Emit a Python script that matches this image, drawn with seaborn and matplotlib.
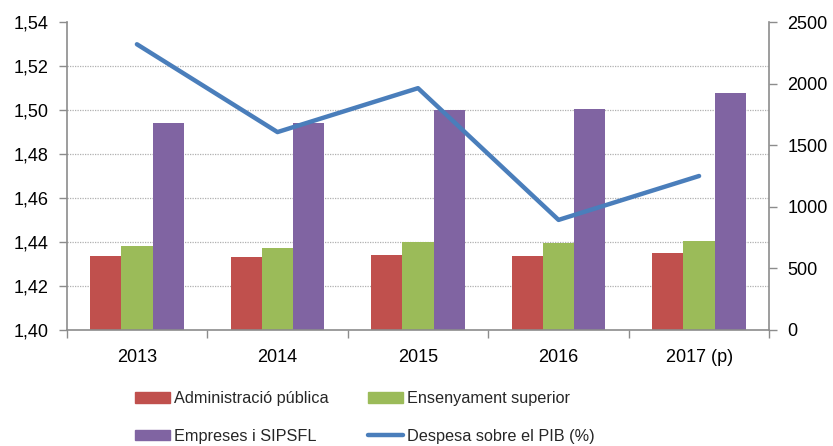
import numpy as np
import pandas as pd
import matplotlib
matplotlib.use("Agg")
import matplotlib.pyplot as plt
from matplotlib.ticker import FuncFormatter, FixedLocator
from matplotlib.patches import Patch
from matplotlib.lines import Line2D
import seaborn as sns

years = ["2013", "2014", "2015", "2016", "2017 (p)"]
admin = [597, 591, 605, 597, 621]
ensenyament = [681, 664, 713, 708, 724]
empreses = [1681, 1680, 1787, 1795, 1928]
pib = [1.530, 1.490, 1.510, 1.450, 1.470]

series_names = ["Administració pública", "Ensenyament superior", "Empreses i SIPSFL"]
colors = ["#c0504d", "#9bbb59", "#8064a2"]
line_name = "Despesa sobre el PIB (%)"
line_color = "#4a7ebb"

sns.set_style("white")
plt.rcParams["font.family"] = ["Liberation Sans", "DejaVu Sans"]

df = pd.DataFrame({
    "year": years * 3,
    "serie": sum([[n] * len(years) for n in series_names], []),
    "value": admin + ensenyament + empreses,
})

fig = plt.figure(figsize=(8.33, 4.46), dpi=100)
ax = fig.add_axes([0.080, 0.2608, 0.9236 - 0.080, 0.950 - 0.2608])

sns.barplot(data=df, x="year", y="value", hue="serie", palette=colors,
            width=0.667, gap=0, ax=ax, saturation=1, legend=False,
            edgecolor="none", linewidth=0)

ax2 = ax.twinx()
sns.lineplot(x=np.arange(len(years)), y=pib, ax=ax2, color=line_color,
             linewidth=3.2, sort=False, legend=False)

spine_col = "#8c8c8c"

# bar axis (right side)
ax.set_ylim(0, 2500)
ax.set_xlim(-0.5, len(years) - 0.5)
ax.yaxis.tick_right()
ax.set_yticks(np.arange(0, 2501, 500))
ax.tick_params(axis="y", which="major", left=False, right=True, labelleft=False,
               labelright=True, length=6, width=1, color=spine_col,
               labelsize=13, labelcolor="black", pad=7)
# grid aligned with the left (percentage) axis ticks
ax.yaxis.set_minor_locator(FixedLocator(np.linspace(0, 2500, 8)))
ax.tick_params(axis="y", which="minor", length=0, left=False, right=False)
ax.grid(False)
ax.yaxis.grid(True, which="minor", color="#b0b0b0", linestyle=(0, (1, 1)), linewidth=0.9)
ax.set_axisbelow(True)
ax.set_xlabel("")
ax.set_ylabel("")

# x ticks: labels centred, tick marks at category boundaries
ax.set_xticks(np.arange(len(years)))
ax.set_xticklabels(years)
ax.set_xticks(np.arange(-0.5, len(years), 1.0), minor=True)
ax.tick_params(axis="x", which="major", length=0, labelsize=13,
               labelcolor="black", pad=14)
ax.tick_params(axis="x", which="minor", bottom=True, length=6, width=1, color=spine_col)

ax.spines["top"].set_visible(False)
for s in ["left", "right", "bottom"]:
    ax.spines[s].set_color(spine_col)
    ax.spines[s].set_linewidth(1.2)

# line axis (left side)
ax2.set_ylim(1.40, 1.54)
ax2.set_xlim(-0.5, len(years) - 0.5)
ax2.yaxis.tick_left()
ax2.set_yticks(np.round(np.arange(1.40, 1.5401, 0.02), 2))
ax2.yaxis.set_major_formatter(FuncFormatter(lambda v, p: f"{v:.2f}".replace(".", ",")))
ax2.tick_params(axis="y", left=True, right=False, labelleft=True, labelright=False,
                length=6, width=1, color=spine_col, labelsize=13,
                labelcolor="black", pad=7)
ax2.set_ylabel("")
for s in ["top", "left", "right", "bottom"]:
    ax2.spines[s].set_visible(False)

handles = [
    Patch(color=colors[0], label=series_names[0]),
    Patch(color=colors[2], label=series_names[2]),
    Patch(color=colors[1], label=series_names[1]),
    Line2D([0], [0], color=line_color, linewidth=3.2, label=line_name),
]
fig.legend(handles=handles, ncol=2, loc="center", bbox_to_anchor=(0.438, 0.064),
           frameon=False, fontsize=11.7, handlelength=2.15, handleheight=0.6,
           handletextpad=0.27, columnspacing=2.4, labelspacing=1.38, borderpad=0)

fig.savefig("out.png", dpi=100)
